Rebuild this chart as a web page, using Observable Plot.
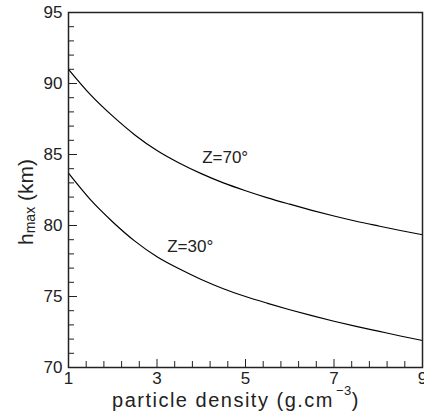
<!DOCTYPE html>
<html><head><meta charset="utf-8">
<script src="https://cdn.jsdelivr.net/npm/d3@7"></script>
<script src="https://cdn.jsdelivr.net/npm/@observablehq/plot@0.6"></script>
<style>
html,body{margin:0;padding:0;background:#fff}
svg{display:block}
</style>
</head><body><div id="chart"></div>
<script>
// particle density (g.cm^-3)
const density = [1, 1.5, 2, 2.5, 3, 3.5, 4, 4.5, 5, 5.5, 6, 6.5, 7, 7.5, 8, 8.5, 9];
// h_max (km) for zenith angle 70°
const hmaxZ70 = [91.0, 89.2, 87.7, 86.38, 85.28, 84.4, 83.65, 83.0, 82.45, 81.95, 81.5, 81.07, 80.67, 80.3, 79.97, 79.65, 79.35];
// h_max (km) for zenith angle 30°
const hmaxZ30 = [83.68, 81.8, 80.25, 78.9, 77.8, 76.95, 76.2, 75.55, 75.0, 74.52, 74.07, 73.65, 73.26, 72.9, 72.56, 72.22, 71.9];

const curveLabels = ["Z=70°", "Z=30°"];
const curveLabelX = [4.02, 3.23];
const curveLabelY = [84.8, 78.5];

const xMajor = [1, 3, 5, 7, 9];
const xMinor = [1.4, 1.8, 2.2, 2.6, 3.4, 3.8, 4.2, 4.6, 5.4, 5.8, 6.2, 6.6, 7.4, 7.8, 8.2, 8.6];
const yMajor = [70, 75, 80, 85, 90, 95];
const yMinor = [71, 72, 73, 74, 76, 77, 78, 79, 81, 82, 83, 84, 86, 87, 88, 89, 91, 92, 93, 94];

const xLabelMain = "particle density (g.cm";
const xLabelSup = "−3";
const xLabelEnd = ")";
const yLabelMain = "h";
const yLabelSub = "max";
const yLabelEnd = " (km)";

const rows = [];
density.forEach((d, i) => {
  rows.push({x: d, y: hmaxZ70[i], z: "70"});
  rows.push({x: d, y: hmaxZ30[i], z: "30"});
});

const FONT = "Liberation Sans, Arial, sans-serif";

const chart = Plot.plot({
  width: 424,
  height: 417,
  marginLeft: 68,
  marginRight: 2,
  marginTop: 12,
  marginBottom: 50,
  style: {fontFamily: FONT, fontSize: "17px", color: "#222", background: "#fff", overflow: "hidden"},
  x: {domain: [1, 9]},
  y: {domain: [70, 95]},
  marks: [
    Plot.axisX(xMinor, {tickSize: -6, text: null, label: null, stroke: "#222"}),
    Plot.axisX(xMajor, {tickSize: -8, tickPadding: 12, label: null, fontSize: 17, stroke: "#222", fill: "#222"}),
    Plot.axisY(yMinor, {tickSize: -6, text: null, label: null, stroke: "#222"}),
    Plot.axisY(yMajor, {tickSize: -9, tickPadding: 15, label: null, fontSize: 17, stroke: "#222", fill: "#222"}),
    Plot.line(rows, {x: "x", y: "y", z: "z", stroke: "#000", strokeWidth: 1.2, curve: "monotone-x"}),
    Plot.text(curveLabels, {
      x: (d, i) => curveLabelX[i],
      y: (d, i) => curveLabelY[i],
      text: d => d,
      textAnchor: "start",
      fontSize: 17,
      fill: "#222"
    }),
    Plot.frame({stroke: "#222", strokeWidth: 1.5})
  ]
});

document.getElementById("chart").appendChild(chart);

const svg = d3.select(chart);
svg.selectAll("[aria-label='x-axis tick-label'] text, [aria-label='y-axis tick-label'] text").style("letter-spacing", "1.5px");

const xl = svg.append("text")
  .attr("x", 236)
  .attr("y", 407)
  .attr("text-anchor", "middle")
  .attr("font-family", FONT)
  .attr("font-size", 20)
  .attr("fill", "#222")
  .style("letter-spacing", "1.5px");
xl.append("tspan").text(xLabelMain);
xl.append("tspan").attr("dx", 2).attr("dy", -12).attr("font-size", 13).style("letter-spacing", "0.5px").text(xLabelSup);
xl.append("tspan").attr("dy", 12).text(xLabelEnd);

const yl = svg.append("text")
  .attr("transform", "translate(33,202) rotate(-90)")
  .attr("text-anchor", "middle")
  .attr("font-family", FONT)
  .attr("font-size", 21)
  .attr("fill", "#222");
yl.append("tspan").text(yLabelMain);
yl.append("tspan").attr("dy", 2).attr("font-size", 14).text(yLabelSub);
yl.append("tspan").attr("dy", -2).text(yLabelEnd);
</script>
</body></html>
